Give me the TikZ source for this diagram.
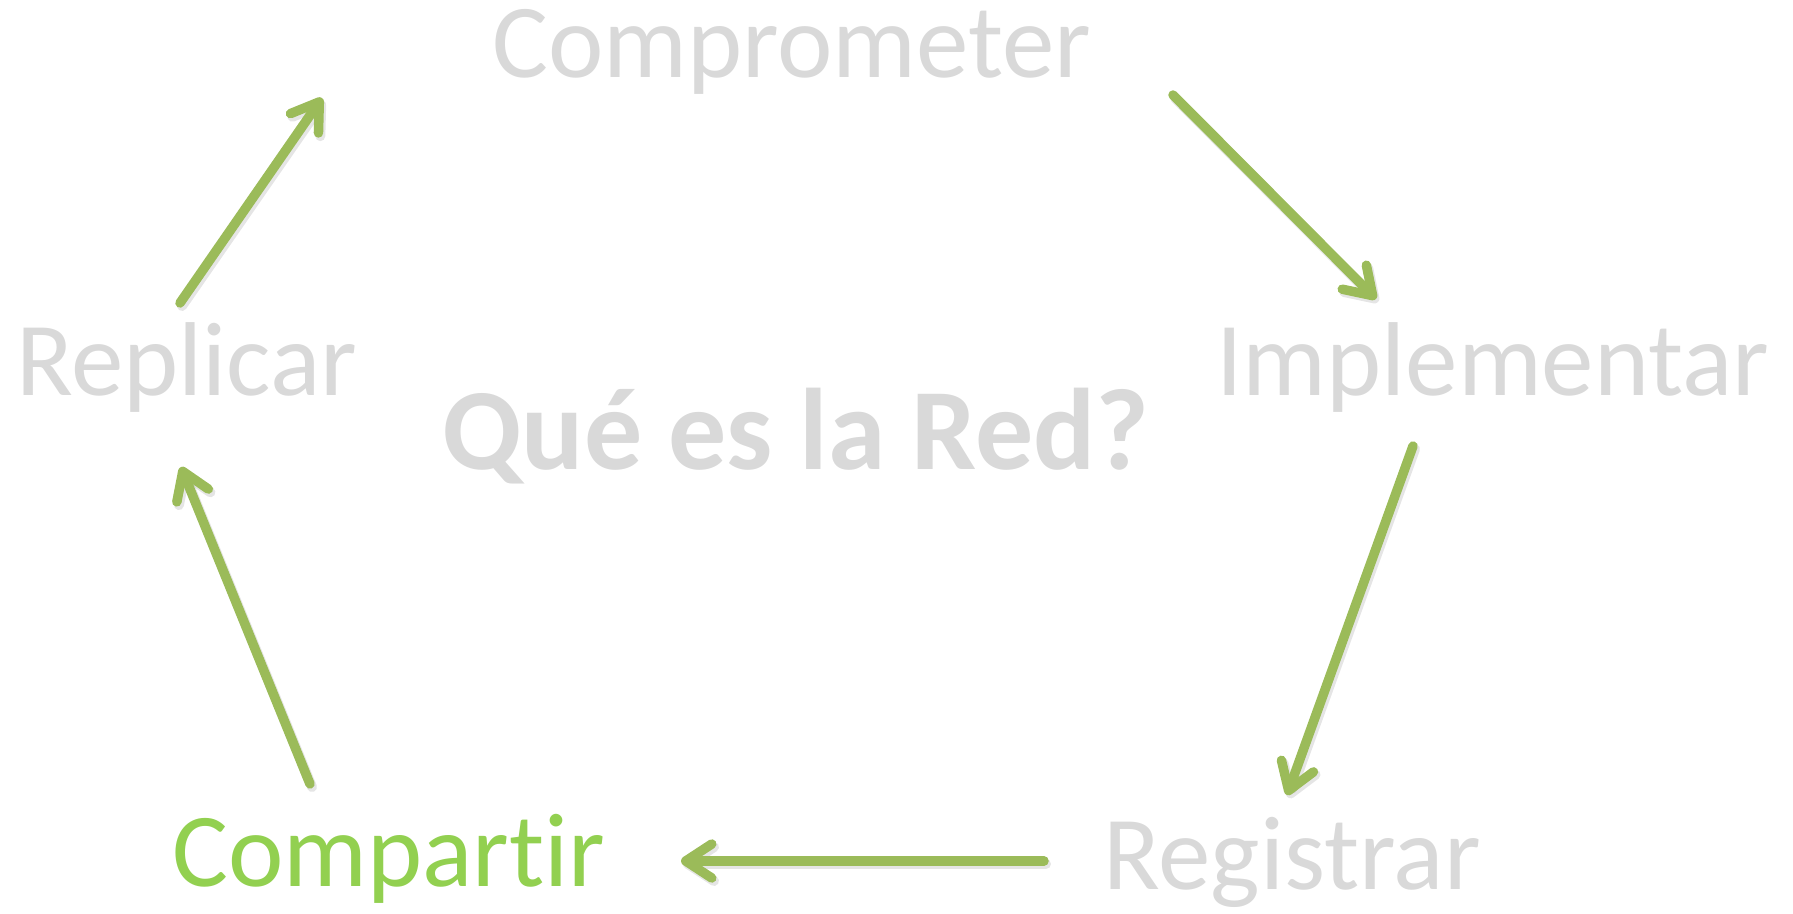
\documentclass[tikz,border=0pt]{standalone}
\usepackage{fontspec}
\setmainfont{Carlito}[Ligatures={NoCommon}]
\usetikzlibrary{arrows.meta}
\definecolor{txtgray}{HTML}{D9D9D9}
\definecolor{lgreen}{HTML}{92D050}
\definecolor{agreen}{HTML}{9BBB59}
\tikzset{
  lbl/.style={anchor=base west, inner sep=0pt, text=txtgray, font=\fontsize{105}{110}\selectfont},
  arr/.style={draw=agreen, line width=9.5pt, line cap=round,
    -{Straight Barb[length=26pt, width=34pt, line cap=round, line join=round]}},
  shd/.style={draw=black!40, opacity=0.25, line width=10pt, line cap=round,
    -{Straight Barb[length=26pt, width=34pt, line cap=round, line join=round]}}
}
\begin{document}
\begin{tikzpicture}[x=1pt,y=-1pt]
\useasboundingbox (0,0) rectangle (1793,913);
\node[lbl] (comp) at (492,77) {Comprometer};
\node[lbl] (repl) at (16,395) {Replicar};
\node[lbl] (impl) at (1216,395) {Implementar};
\node[lbl] (regi) at (1103,889) {Registrar};
\node[lbl, text=lgreen] (compa) at (172,886) {Compartir};
\node[anchor=base west, inner sep=0pt, text=txtgray, font=\fontsize{116}{120}\selectfont\bfseries] (red) at (442,469) {Qué es la Red?};
% connector ends
\coordinate (r1) at (180,303); \coordinate (c1) at (322,98);
\coordinate (c2) at (1173,95); \coordinate (i2) at (1376,299);
\coordinate (i3) at (1413,446); \coordinate (g3) at (1287,795);
\coordinate (g4) at (1044,861); \coordinate (p4) at (681,861);
\coordinate (p5) at (310,784); \coordinate (r5) at (181,467);
% shadows
\foreach \a/\b in {r1/c1,c2/i2,i3/g3,g4/p4,p5/r5}{
  \draw[shd, transform canvas={shift={(2pt,-3pt)}}] (\a) -- (\b);
}
\draw[arr] (r1) -- (c1);
\draw[arr] (c2) -- (i2);
\draw[arr] (i3) -- (g3);
\draw[arr] (g4) -- (p4);
\draw[arr] (p5) -- (r5);
\end{tikzpicture}
\end{document}
